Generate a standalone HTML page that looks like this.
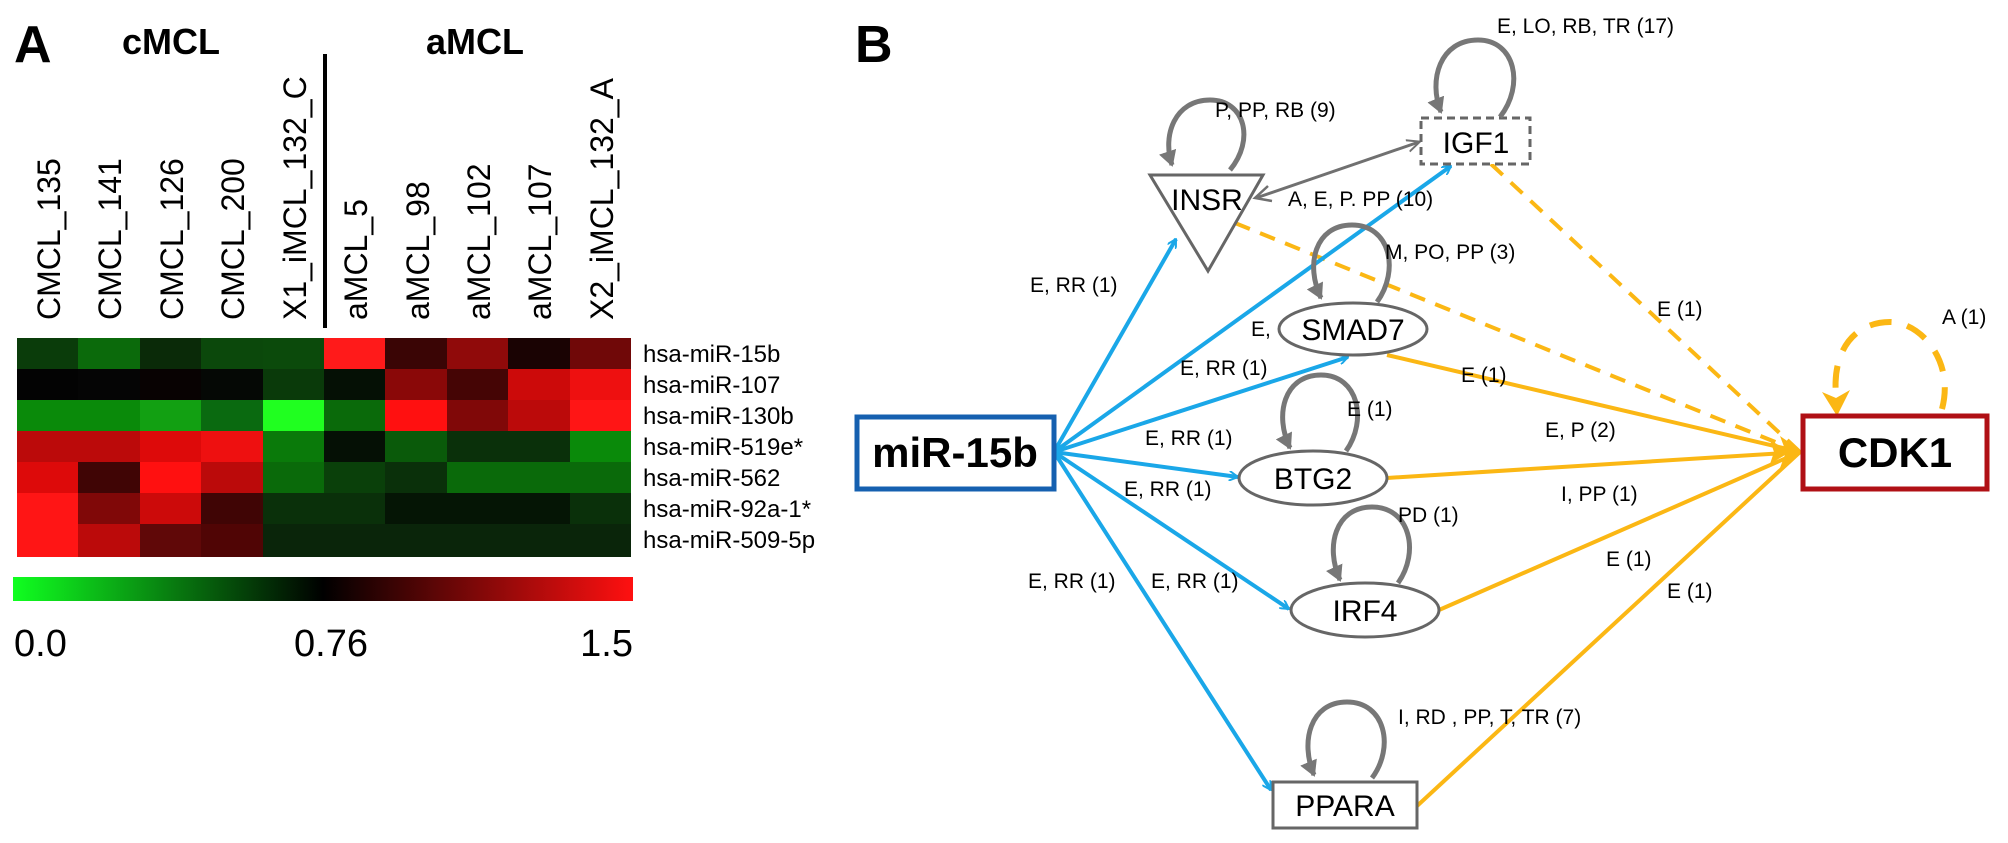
<!DOCTYPE html>
<html><head><meta charset="utf-8"><style>
html,body{margin:0;padding:0;background:#fff;}
svg{display:block;font-family:"Liberation Sans",Arial,sans-serif;}
</style></head><body>
<svg width="2008" height="843" viewBox="0 0 2008 843" xmlns="http://www.w3.org/2000/svg">
<defs>
<linearGradient id="cb" x1="0" x2="1" y1="0" y2="0">
<stop offset="0" stop-color="#10ff20"/><stop offset="0.5" stop-color="#000"/><stop offset="1" stop-color="#ff1010"/>
</linearGradient>
<marker id="ab" markerWidth="10" markerHeight="10" refX="9" refY="5" orient="auto" markerUnits="userSpaceOnUse" viewBox="0 0 10 10">
<path d="M0,0 L9,5 L0,10" fill="none" stroke="#1aa7e8" stroke-width="2"/></marker>
<marker id="ag" markerWidth="14" markerHeight="14" refX="12" refY="7" orient="auto" markerUnits="userSpaceOnUse" viewBox="0 0 14 14">
<path d="M0,1 L13,7 L0,13" fill="none" stroke="#707070" stroke-width="2"/></marker>
<marker id="al" markerWidth="18" markerHeight="18" refX="14" refY="9" orient="auto" markerUnits="userSpaceOnUse" viewBox="0 0 18 18">
<path d="M0,0 L16,9 L0,18 Z" fill="#777"/></marker>
</defs>

<!-- Panel A -->
<text x="14" y="62" font-size="52" font-weight="bold">A</text>
<text x="122" y="54" font-size="36" font-weight="bold">cMCL</text>
<text x="426" y="54" font-size="36" font-weight="bold">aMCL</text>
<line x1="325" y1="54" x2="325" y2="328" stroke="#000" stroke-width="4"/>

<g font-size="32">
<text transform="translate(60,320) rotate(-90)">CMCL_135</text>
<text transform="translate(121,320) rotate(-90)">CMCL_141</text>
<text transform="translate(183,320) rotate(-90)">CMCL_126</text>
<text transform="translate(244,320) rotate(-90)">CMCL_200</text>
<text transform="translate(306,320) rotate(-90)">X1_iMCL_132_C</text>
<text transform="translate(367,320) rotate(-90)">aMCL_5</text>
<text transform="translate(429,320) rotate(-90)">aMCL_98</text>
<text transform="translate(490,320) rotate(-90)">aMCL_102</text>
<text transform="translate(551,320) rotate(-90)">aMCL_107</text>
<text transform="translate(613,320) rotate(-90)">X2_iMCL_132_A</text>
</g>

<g id="hm">
<rect x="17" y="338" width="62" height="32" fill="#0a3c0a"/><rect x="78" y="338" width="62" height="32" fill="#0b6a0b"/><rect x="140" y="338" width="62" height="32" fill="#0a2a08"/><rect x="201" y="338" width="62" height="32" fill="#0b480b"/><rect x="263" y="338" width="62" height="32" fill="#0b4a0b"/><rect x="324" y="338" width="62" height="32" fill="#ff1a1a"/><rect x="385" y="338" width="62" height="32" fill="#3a0505"/><rect x="447" y="338" width="62" height="32" fill="#900a0a"/><rect x="508" y="338" width="62" height="32" fill="#1a0303"/><rect x="570" y="338" width="61" height="32" fill="#700808"/>
<rect x="17" y="369" width="62" height="32" fill="#030303"/><rect x="78" y="369" width="62" height="32" fill="#050505"/><rect x="140" y="369" width="62" height="32" fill="#080202"/><rect x="201" y="369" width="62" height="32" fill="#050805"/><rect x="263" y="369" width="62" height="32" fill="#0a3a0a"/><rect x="324" y="369" width="62" height="32" fill="#051005"/><rect x="385" y="369" width="62" height="32" fill="#8a0808"/><rect x="447" y="369" width="62" height="32" fill="#450505"/><rect x="508" y="369" width="62" height="32" fill="#cc0a0a"/><rect x="570" y="369" width="61" height="32" fill="#ee1010"/>
<rect x="17" y="400" width="62" height="32" fill="#0a8a0a"/><rect x="78" y="400" width="62" height="32" fill="#0a8a0a"/><rect x="140" y="400" width="62" height="32" fill="#12a012"/><rect x="201" y="400" width="62" height="32" fill="#0a6a10"/><rect x="263" y="400" width="62" height="32" fill="#20ff20"/><rect x="324" y="400" width="62" height="32" fill="#0a6a0a"/><rect x="385" y="400" width="62" height="32" fill="#ff1010"/><rect x="447" y="400" width="62" height="32" fill="#800808"/><rect x="508" y="400" width="62" height="32" fill="#bb0a0a"/><rect x="570" y="400" width="61" height="32" fill="#ff1515"/>
<rect x="17" y="431" width="62" height="32" fill="#bb0a0a"/><rect x="78" y="431" width="62" height="32" fill="#bb0a0a"/><rect x="140" y="431" width="62" height="32" fill="#dd0a0a"/><rect x="201" y="431" width="62" height="32" fill="#ee1010"/><rect x="263" y="431" width="62" height="32" fill="#0a7a0a"/><rect x="324" y="431" width="62" height="32" fill="#051005"/><rect x="385" y="431" width="62" height="32" fill="#0a5a0a"/><rect x="447" y="431" width="62" height="32" fill="#0a300a"/><rect x="508" y="431" width="62" height="32" fill="#0a300a"/><rect x="570" y="431" width="61" height="32" fill="#0a8a0a"/>
<rect x="17" y="462" width="62" height="32" fill="#dd0a0a"/><rect x="78" y="462" width="62" height="32" fill="#400505"/><rect x="140" y="462" width="62" height="32" fill="#ff1010"/><rect x="201" y="462" width="62" height="32" fill="#bb0a0a"/><rect x="263" y="462" width="62" height="32" fill="#0a6a0a"/><rect x="324" y="462" width="62" height="32" fill="#0a400a"/><rect x="385" y="462" width="62" height="32" fill="#0a300a"/><rect x="447" y="462" width="62" height="32" fill="#0a6a0a"/><rect x="508" y="462" width="62" height="32" fill="#0a6a0a"/><rect x="570" y="462" width="61" height="32" fill="#0a6a0a"/>
<rect x="17" y="493" width="62" height="32" fill="#ff1515"/><rect x="78" y="493" width="62" height="32" fill="#800808"/><rect x="140" y="493" width="62" height="32" fill="#cc0a0a"/><rect x="201" y="493" width="62" height="32" fill="#400505"/><rect x="263" y="493" width="62" height="32" fill="#0a300a"/><rect x="324" y="493" width="62" height="32" fill="#0a300a"/><rect x="385" y="493" width="62" height="32" fill="#051505"/><rect x="447" y="493" width="62" height="32" fill="#051505"/><rect x="508" y="493" width="62" height="32" fill="#051505"/><rect x="570" y="493" width="61" height="32" fill="#0a300a"/>
<rect x="17" y="524" width="62" height="33" fill="#ff1515"/><rect x="78" y="524" width="62" height="33" fill="#bb0a0a"/><rect x="140" y="524" width="62" height="33" fill="#600808"/><rect x="201" y="524" width="62" height="33" fill="#500505"/><rect x="263" y="524" width="368" height="33" fill="#0a250a"/>
</g>

<g font-size="24">
<text x="643" y="362">hsa-miR-15b</text>
<text x="643" y="393">hsa-miR-107</text>
<text x="643" y="424">hsa-miR-130b</text>
<text x="643" y="455">hsa-miR-519e*</text>
<text x="643" y="486">hsa-miR-562</text>
<text x="643" y="517">hsa-miR-92a-1*</text>
<text x="643" y="548">hsa-miR-509-5p</text>
</g>

<rect x="13" y="577" width="620" height="24" fill="url(#cb)"/>
<g font-size="38">
<text x="14" y="656">0.0</text>
<text x="331" y="656" text-anchor="middle">0.76</text>
<text x="633" y="656" text-anchor="end">1.5</text>
</g>

<!-- Panel B -->
<text x="855" y="62" font-size="52" font-weight="bold">B</text>

<g stroke="#fbb714" stroke-width="4" fill="none">
<line x1="1235" y1="223" x2="1800" y2="452" stroke-dasharray="16 11"/>
<line x1="1491" y1="164" x2="1800" y2="452" stroke-dasharray="16 11"/>
<line x1="1387" y1="355" x2="1800" y2="452"/>
<line x1="1387" y1="478" x2="1800" y2="452"/>
<line x1="1439" y1="610" x2="1800" y2="452"/>
<line x1="1417" y1="806" x2="1800" y2="452"/>
</g>
<path d="M1790,452 L1770,440 L1774,452 L1770,464 Z" fill="#fbb714"/>
<path d="M1803,452 L1780,436 L1786,452 L1780,468 Z" fill="#fbb714"/>
<path d="M1942,409 C1955,360 1920,322 1890,322 C1855,322 1832,350 1836,395" stroke="#fbb714" stroke-width="6" fill="none" stroke-dasharray="22 16"/>
<path d="M1837,416 L1822,392 L1836,398 L1850,390 Z" fill="#fbb714"/>

<line x1="1256" y1="198" x2="1419" y2="142" stroke="#707070" stroke-width="3" marker-end="url(#ag)"/>
<path d="M1268,186 L1255,198 L1272,201" fill="none" stroke="#707070" stroke-width="2.5"/>

<g stroke="#1aa7e8" stroke-width="4" fill="none" marker-end="url(#ab)">
<line x1="1054" y1="452" x2="1176" y2="239"/>
<line x1="1054" y1="452" x2="1451" y2="166"/>
<line x1="1054" y1="452" x2="1348" y2="357"/>
<line x1="1054" y1="452" x2="1238" y2="477"/>
<line x1="1054" y1="452" x2="1289" y2="609"/>
<line x1="1054" y1="452" x2="1271" y2="790"/>
</g>

<rect x="857" y="417" width="197" height="72" fill="#fff" stroke="#1560b0" stroke-width="5"/>
<text x="955" y="467" font-size="42" font-weight="bold" text-anchor="middle">miR-15b</text>
<rect x="1803" y="416" width="184" height="73" fill="#fff" stroke="#b01015" stroke-width="5"/>
<text x="1895" y="467" font-size="42" font-weight="bold" text-anchor="middle">CDK1</text>

<path d="M1150,175 L1263,175 L1208,271 Z" fill="none" stroke="#666" stroke-width="3"/>
<text x="1207" y="210" font-size="30" text-anchor="middle">INSR</text>
<rect x="1421" y="118" width="109" height="46" fill="#fff" stroke="#666" stroke-width="3" stroke-dasharray="8 5"/>
<text x="1476" y="153" font-size="30" text-anchor="middle">IGF1</text>
<ellipse cx="1353" cy="329" rx="74" ry="26" fill="#fff" stroke="#666" stroke-width="3"/>
<text x="1353" y="340" font-size="30" text-anchor="middle">SMAD7</text>
<ellipse cx="1313" cy="478" rx="74" ry="27" fill="#fff" stroke="#666" stroke-width="3"/>
<text x="1313" y="489" font-size="30" text-anchor="middle">BTG2</text>
<ellipse cx="1365" cy="610" rx="74" ry="27" fill="#fff" stroke="#666" stroke-width="3"/>
<text x="1365" y="621" font-size="30" text-anchor="middle">IRF4</text>
<rect x="1273" y="782" width="144" height="46" fill="#fff" stroke="#666" stroke-width="3"/>
<text x="1345" y="816" font-size="30" text-anchor="middle">PPARA</text>

<g stroke="#777" stroke-width="5" fill="none" marker-end="url(#al)">
<path d="M1230,170 C1255,140 1245,100 1210,100 C1175,100 1162,135 1172,165"/>
<path d="M1500,117 C1525,85 1515,40 1478,40 C1440,40 1428,80 1441,112"/>
<path d="M1377,302 C1400,270 1390,225 1352,225 C1315,225 1305,265 1321,298"/>
<path d="M1346,451 C1368,420 1358,375 1321,375 C1284,375 1274,415 1290,448"/>
<path d="M1398,583 C1420,552 1410,507 1372,507 C1335,507 1325,547 1340,580"/>
<path d="M1372,778 C1395,747 1385,702 1347,702 C1310,702 1300,742 1314,775"/>
</g>

<g font-size="21">
<text x="1497" y="33">E, LO, RB, TR (17)</text>
<text x="1215" y="117">P, PP, RB (9)</text>
<text x="1288" y="206">A, E, P. PP (10)</text>
<text x="1385" y="259">M, PO, PP (3)</text>
<text x="1030" y="292">E, RR (1)</text>
<text x="1251" y="336">E,</text>
<text x="1180" y="375">E, RR (1)</text>
<text x="1461" y="382">E (1)</text>
<text x="1657" y="316">E (1)</text>
<text x="1942" y="324">A (1)</text>
<text x="1347" y="416">E (1)</text>
<text x="1145" y="445">E, RR (1)</text>
<text x="1545" y="437">E, P (2)</text>
<text x="1124" y="496">E, RR (1)</text>
<text x="1561" y="501">I, PP (1)</text>
<text x="1398" y="522">PD (1)</text>
<text x="1606" y="566">E (1)</text>
<text x="1028" y="588">E, RR (1)</text>
<text x="1151" y="588">E, RR (1)</text>
<text x="1667" y="598">E (1)</text>
<text x="1398" y="724">I, RD , PP, T, TR (7)</text>
</g>
</svg>
</body></html>
